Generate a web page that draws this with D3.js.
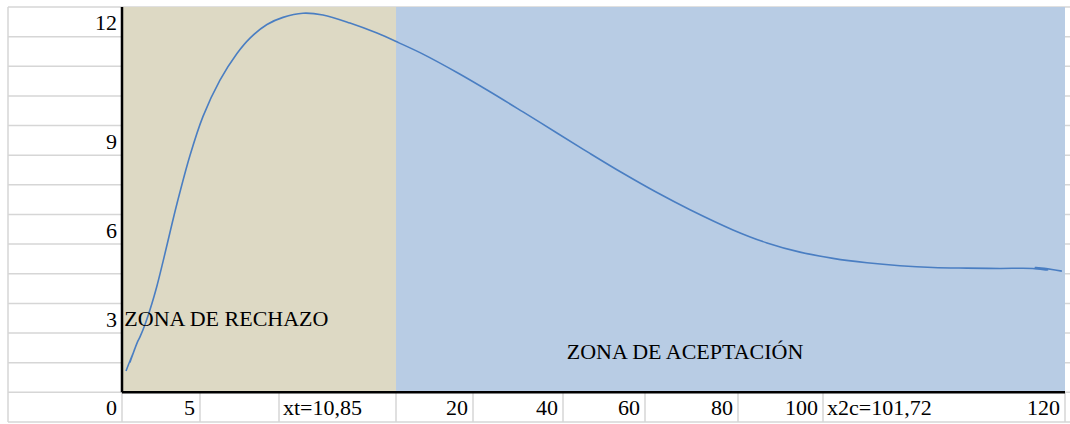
<!DOCTYPE html>
<html>
<head>
<meta charset="utf-8">
<script src="https://cdn.jsdelivr.net/npm/d3@7"></script>
<style>
  body { margin: 0; background: #fff; }
  text { font-family: "Liberation Serif", "Times New Roman", serif; font-size: 22px; fill: #000; }
</style>
</head>
<body>
<div id="container"></div>
<script>
/* DATA */
// curve (x in 0..120, y in 0..13)
const xVals = [0.51, 1.65, 1.02, 1.91, 2.29, 2.93, 3.78, 4.42, 5.22, 6.11, 7.00, 8.65, 10.31, 12.47, 14.63,
  16.29, 18.45, 20.49, 23.03, 25.58, 29.01, 32.45, 35.25, 38.30, 42.63, 46.83, 51.03, 55.35, 59.55,
  63.75, 68.08, 72.28, 77.75, 82.08, 86.28, 90.48, 94.80, 99.00, 103.2, 107.5, 111.7, 115.9, 117.8, 116.2, 119.6];
const yVals = [0.72, 1.49, 1.02, 1.66, 1.87, 2.29, 2.97, 3.56, 4.41, 5.40, 6.37, 7.99, 9.31, 10.53, 11.43,
  11.95, 12.41, 12.65, 12.79, 12.73, 12.46, 12.12, 11.79, 11.41, 10.79, 10.14, 9.46, 8.75, 8.06,
  7.39, 6.74, 6.16, 5.48, 5.04, 4.73, 4.52, 4.37, 4.27, 4.21, 4.19, 4.18, 4.18, 4.12, 4.22, 4.09];

const yTickLabels = ["12", "9", "6", "3", "0"];
const xCellLabels = ["5", "", "xt=10,85", "20", "40", "60", "80", "100", "x2c=101,72", "120"];
const zoneNames = ["ZONA DE RECHAZO", "ZONA DE ACEPTACIÓN"];
const zoneBreaks = [0, 34.87, 120];

/* LAYOUT */
const width = 1070, height = 424;
const sheetLeft = 8, sheetTop = 7, rowH = 29.64, nRows = 14;
const plot = {left: 122, right: 1065, top: sheetTop, bottom: sheetTop + 13 * rowH};
const yTickRows = [0, 4, 7, 10, 13];             // spreadsheet row of each y label
const colEdges = [122, 200, 279, 396, 473, 563, 645, 738, 823, 944, 1065];
const hiddenEdges = [944];
const zoneLabelPos = [{x: 0.3, y: 2.23, anchor: "start"}, {x: 56.6, y: 1.11, anchor: "start"}];
const zoneColors = ["#DDD9C4", "#B8CCE4"];
const gridColor = "#d6d6d6";

let svg, xScale, yScale;

init();

function init() {
  xScale = d3.scaleLinear().domain([0, 120]).range([plot.left, plot.right]);
  yScale = d3.scaleLinear().domain([0, 13]).range([plot.bottom, plot.top]);

  svg = d3.select("#container").append("svg")
    .attr("width", width)
    .attr("height", height);

  draw();
}

function draw() {
  // sheet gridlines (rows)
  svg.append("g").selectAll("line.row")
    .data(d3.range(nRows + 1))
    .join("line")
    .attr("class", "row")
    .attr("x1", sheetLeft)
    .attr("x2", width)
    .attr("y1", i => sheetTop + i * rowH)
    .attr("y2", i => sheetTop + i * rowH)
    .attr("stroke", gridColor)
    .attr("stroke-width", 1.5);

  // left sheet border
  svg.append("line")
    .attr("x1", sheetLeft).attr("x2", sheetLeft)
    .attr("y1", sheetTop).attr("y2", sheetTop + nRows * rowH)
    .attr("stroke", gridColor).attr("stroke-width", 1.5);

  // bottom row column borders
  svg.append("g").selectAll("line.col")
    .data(colEdges.filter(e => !hiddenEdges.includes(e)))
    .join("line")
    .attr("class", "col")
    .attr("x1", d => d).attr("x2", d => d)
    .attr("y1", plot.bottom).attr("y2", sheetTop + nRows * rowH)
    .attr("stroke", gridColor).attr("stroke-width", 1.5);

  // zones
  svg.append("g").selectAll("rect.zone")
    .data(zoneNames)
    .join("rect")
    .attr("class", "zone")
    .attr("x", (d, i) => xScale(zoneBreaks[i]))
    .attr("width", (d, i) => xScale(zoneBreaks[i + 1]) - xScale(zoneBreaks[i]))
    .attr("y", plot.top)
    .attr("height", plot.bottom - plot.top)
    .attr("fill", (d, i) => zoneColors[i]);

  // curve
  const pts = xVals.map((x, i) => [x, yVals[i]]);
  const line = d3.line()
    .x(d => xScale(d[0]))
    .y(d => yScale(d[1]))
    .curve(d3.curveCatmullRom.alpha(0.5));

  svg.append("path")
    .datum(pts)
    .attr("d", line)
    .attr("fill", "none")
    .attr("stroke", "#4A7EC2")
    .attr("stroke-width", 1.6);

  // axis lines
  svg.append("line")
    .attr("x1", plot.left).attr("x2", plot.left)
    .attr("y1", plot.top).attr("y2", plot.bottom)
    .attr("stroke", "#000").attr("stroke-width", 2.5);
  svg.append("line")
    .attr("x1", plot.left).attr("x2", plot.right)
    .attr("y1", plot.bottom).attr("y2", plot.bottom)
    .attr("stroke", "#000").attr("stroke-width", 2.5);

  // y labels in the left column cells
  svg.append("g").selectAll("text.ylab")
    .data(yTickLabels)
    .join("text")
    .attr("class", "ylab")
    .attr("x", plot.left - 5)
    .attr("y", (d, i) => sheetTop + (yTickRows[i] + 1) * rowH - 6.5)
    .attr("text-anchor", "end")
    .text(d => d);

  // x labels in the bottom row cells (numbers right, text left)
  const rowBase = sheetTop + nRows * rowH - 7;
  svg.append("g").selectAll("text.xlab")
    .data(xCellLabels)
    .join("text")
    .attr("class", "xlab")
    .attr("x", (d, i) => isNaN(+d) ? colEdges[i] + 4 : colEdges[i + 1] - 5)
    .attr("y", rowBase)
    .attr("text-anchor", d => isNaN(+d) ? "start" : "end")
    .text(d => d);

  // zone labels
  svg.append("g").selectAll("text.zlab")
    .data(zoneNames)
    .join("text")
    .attr("class", "zlab")
    .attr("x", (d, i) => xScale(zoneLabelPos[i].x))
    .attr("y", (d, i) => yScale(zoneLabelPos[i].y))
    .attr("text-anchor", (d, i) => zoneLabelPos[i].anchor)
    .text(d => d);
}
</script>
</body>
</html>
